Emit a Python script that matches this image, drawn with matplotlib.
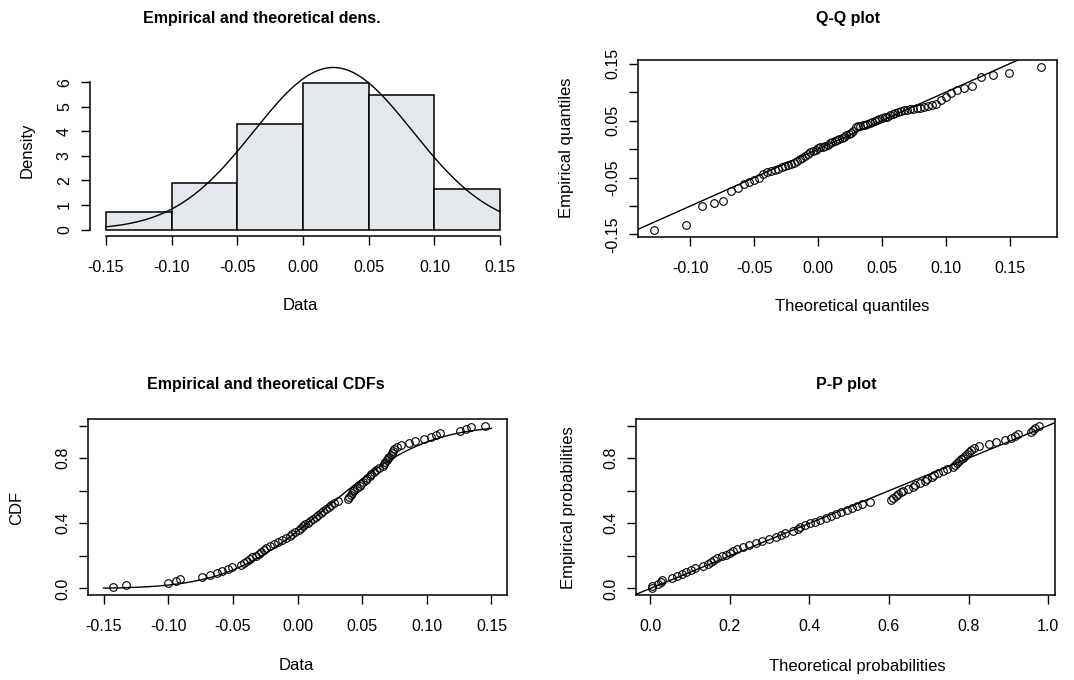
import numpy as np
import matplotlib.pyplot as plt
from statistics import NormalDist

plt.rcParams['font.family'] = ['Liberation Sans', 'DejaVu Sans']

# sample (84 values, sorted)
data = [-0.143, -0.133, -0.1005,
        -0.094, -0.091, -0.074, -0.068, -0.062, -0.058, -0.054, -0.0505,
        -0.044, -0.041, -0.039, -0.037, -0.035, -0.032, -0.030, -0.028, -0.026,
        -0.024, -0.021, -0.018, -0.015, -0.012, -0.009, -0.006, -0.004, -0.002,
        0.001, 0.003, 0.004, 0.006, 0.008, 0.010, 0.012, 0.014, 0.016, 0.018,
        0.020, 0.022, 0.024, 0.026, 0.028, 0.031,
        0.039, 0.040, 0.041, 0.042, 0.043, 0.044, 0.046, 0.048, 0.049,
        0.051, 0.053, 0.054, 0.056, 0.057, 0.059, 0.061, 0.063,
        0.066, 0.067, 0.068, 0.069, 0.070, 0.071, 0.072, 0.073, 0.074, 0.075,
        0.077, 0.080, 0.086, 0.091, 0.098,
        0.103, 0.107, 0.110, 0.126, 0.130, 0.134, 0.145]
breaks = [-0.15, -0.10, -0.05, 0.00, 0.05, 0.10, 0.15]
# fitted normal parameters
mu, sigma = 0.023, 0.0604

x_ticks = [-0.15, -0.10, -0.05, 0.00, 0.05, 0.10, 0.15]
x_labels = ['-0.15', '-0.10', '-0.05', '0.00', '0.05', '0.10', '0.15']
qq_xticks = [-0.10, -0.05, 0.00, 0.05, 0.10, 0.15]
qq_xlabels = ['-0.10', '-0.05', '0.00', '0.05', '0.10', '0.15']
qq_yticks = [-0.15, -0.10, -0.05, 0.00, 0.05, 0.10, 0.15]
qq_ylabels = ['-0.15', '', '-0.05', '', '0.05', '', '0.15']
p_ticks = [0.0, 0.2, 0.4, 0.6, 0.8, 1.0]
p_xlabels = ['0.0', '0.2', '0.4', '0.6', '0.8', '1.0']
p_ylabels = ['0.0', '', '0.4', '', '0.8', '']
dens_yticks = [0, 1, 2, 3, 4, 5, 6]

nd = NormalDist(mu, sigma)
xs = np.sort(np.array(data))
n = len(xs)
pp = (np.arange(1, n + 1) - 0.5) / n
theo_q = np.array([nd.inv_cdf(p) for p in pp])
theo_p = np.array([nd.cdf(v) for v in xs])
ecdf = np.arange(1, n + 1) / n
grid = np.linspace(-0.15, 0.15, 301)
dens = np.array([nd.pdf(v) for v in grid])
cdf = np.array([nd.cdf(v) for v in grid])


def rng(lo, hi):
    d = (hi - lo) * 0.04
    return lo - d, hi + d


W, H = 1074, 680
fig = plt.figure(figsize=(W / 100, H / 100), dpi=100)


def box(l, t, r, b):
    return fig.add_axes([l / W, 1 - b / H, (r - l) / W, (b - t) / H])


FS = 11.5
lw = 1.0


def style(ax):
    for s in ax.spines.values():
        s.set_linewidth(1.1)
    ax.tick_params(length=6.5, width=1.0, labelsize=FS, direction='out')
    ax.tick_params(axis='x', pad=10.5)
    ax.tick_params(axis='y', pad=6.5)


mk = dict(marker='o', ms=5.5, mfc='none', mec='black', mew=0.8, ls='none')

# density
ax1 = box(90, 61, 516, 236)
ax1.hist(xs, bins=breaks, density=True, color='#e4e7eb', edgecolor='black', linewidth=1.1)
ax1.plot(grid, dens, color='black', lw=lw)
ax1.set_xlim(rng(-0.15, 0.15))
ax1.set_ylim(rng(0, dens.max()))
ax1.spines['top'].set_visible(False)
ax1.spines['right'].set_visible(False)
ax1.spines['left'].set_bounds(0, 6)
ax1.spines['bottom'].set_bounds(-0.15, 0.15)
style(ax1)
ax1.set_xticks(x_ticks, x_labels)
ax1.set_yticks(dens_yticks, [str(v) for v in dens_yticks], rotation=90, va='center')

# Q-Q
ax2 = box(638, 60, 1057, 237)
ax2.plot(theo_q, xs, **mk)
ax2.set_xlim(rng(theo_q.min(), theo_q.max()))
ax2.set_ylim(rng(xs.min(), xs.max()))
ax2.axline((0, 0), slope=1, color='black', lw=lw)
style(ax2)
ax2.set_xticks(qq_xticks, qq_xlabels)
ax2.set_yticks(qq_yticks, qq_ylabels, rotation=90, va='center')

# CDF
ax3 = box(88, 419, 507, 595)
ax3.plot(grid, cdf, color='black', lw=lw)
ax3.plot(xs, ecdf, **mk)
ax3.set_xlim(rng(-0.15, 0.15))
ax3.set_ylim(rng(0, 1))
style(ax3)
ax3.set_xticks(x_ticks, x_labels)
ax3.set_yticks(p_ticks, p_ylabels, rotation=90, va='center')

# P-P
ax4 = box(636, 419, 1055, 595)
ax4.plot(theo_p, pp, **mk)
ax4.set_xlim(rng(theo_p.min(), theo_p.max()))
ax4.set_ylim(rng(0, 1))
ax4.axline((0, 0), slope=1, color='black', lw=lw)
style(ax4)
ax4.set_xticks(p_ticks, p_xlabels)
ax4.set_yticks(p_ticks, p_ylabels, rotation=90, va='center')

# titles and axis labels
def ftext(x, y, s, size=12, **kw):
    fig.text(x / W, 1 - y / H, s, ha='center', va='center', fontsize=size, **kw)


TS = 11.5
ftext(262, 18, 'Empirical and theoretical dens.', size=TS, fontweight='bold')
ftext(848, 18, 'Q-Q plot', size=TS, fontweight='bold')
ftext(266, 385, 'Empirical and theoretical CDFs', size=TS, fontweight='bold')
ftext(846, 385, 'P-P plot', size=TS, fontweight='bold')

ftext(300, 306, 'Data')
ftext(852, 307, 'Theoretical quantiles')
ftext(296, 666, 'Data')
ftext(857, 666, 'Theoretical probabilities')

ftext(27, 150, 'Density', rotation=90)
ftext(567, 148, 'Empirical quantiles', rotation=90)
ftext(17, 508, 'CDF', rotation=90)
ftext(568, 508, 'Empirical probabilities', rotation=90)

fig.savefig('out.png', dpi=100)
